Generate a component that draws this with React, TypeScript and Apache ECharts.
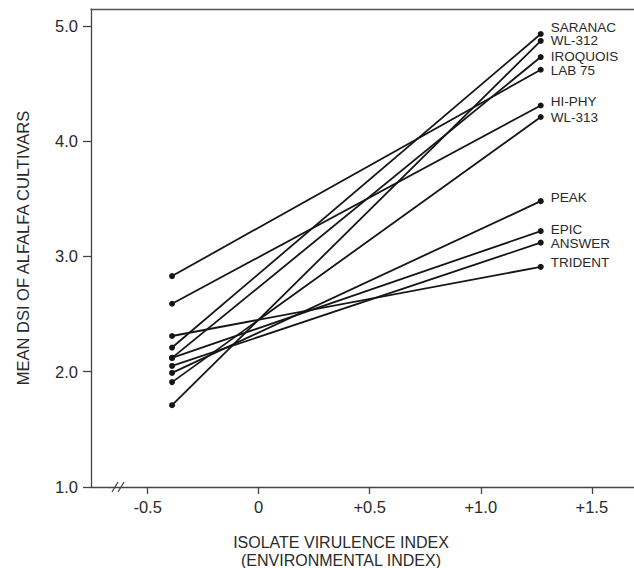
import React, { useEffect, useRef } from "react";
import * as echarts from "echarts";

// Data
const cultivars = ["SARANAC", "WL-312", "IROQUOIS", "LAB 75", "HI-PHY", "WL-313", "PEAK", "EPIC", "ANSWER", "TRIDENT"];
const envLow = -0.39;
const envHigh = 1.27;
const dsiAtLow = [2.21, 1.71, 2.12, 2.83, 2.59, 1.91, 1.99, 2.12, 2.05, 2.31];
const dsiAtHigh = [4.93, 4.87, 4.73, 4.62, 4.31, 4.21, 3.48, 3.22, 3.12, 2.91];
const xTicks = [-0.5, 0, 0.5, 1.0, 1.5];
const yTicks = [1, 2, 3, 4, 5];

// label vertical nudges (px)
const labelNudge = [-7, 0, -1, 1, -4, 0, -4, -2, 1, -4];

const FONT = '"Liberation Sans", Arial, Helvetica, sans-serif';
const INK = "#151515";
const TEXT = "#2a2a2a";

export default function App() {
  const ref = useRef<HTMLDivElement>(null);
  useEffect(() => {
    if (!ref.current) return;
    const chart = echarts.init(ref.current, undefined, { renderer: "svg" });
    const fmtX = (v: number) => (v === 0 ? "0" : (v > 0 ? "+" : "") + v.toFixed(1));
    const option: any = {
      animation: false,
      backgroundColor: "#ffffff",
      grid: { left: 91, right: 0, top: 9, bottom: 81 },
      xAxis: [
        {
          type: "value",
          min: -0.755,
          max: 1.69,
          axisLine: { show: true, onZero: false, lineStyle: { color: "#444", width: 1.3 } },
          axisTick: { show: true, length: 7, customValues: xTicks, lineStyle: { color: "#444", width: 1.3 } },
          axisLabel: {
            show: true,
            customValues: xTicks,
            formatter: fmtX,
            margin: 11,
            color: TEXT,
            fontSize: 16.5,
            fontFamily: FONT,
          },
          splitLine: { show: false },
        },
        {
          type: "value",
          position: "top",
          min: -0.755,
          max: 1.69,
          axisLine: { show: true, onZero: false, lineStyle: { color: "#555", width: 1.3 } },
          axisTick: { show: false },
          axisLabel: { show: false },
          splitLine: { show: false },
        },
      ],
      yAxis: {
        type: "value",
        min: 1,
        max: 5.147,
        name: "MEAN DSI OF ALFALFA CULTIVARS",
        nameLocation: "middle",
        nameGap: 60,
        nameTextStyle: { color: TEXT, fontSize: 16.5, fontFamily: FONT },
        axisLine: { show: true, onZero: false, lineStyle: { color: "#444", width: 1.3 } },
        axisTick: { show: true, length: 8, customValues: yTicks, lineStyle: { color: "#444", width: 1.3 } },
        axisLabel: {
          show: true,
          customValues: yTicks,
          formatter: (v: number) => v.toFixed(1),
          margin: 13,
          color: TEXT,
          fontSize: 16.5,
          fontFamily: FONT,
        },
        splitLine: { show: false },
      },
      series: cultivars.map((name, i) => ({
        type: "line",
        name,
        xAxisIndex: 0,
        data: [
          [envLow, dsiAtLow[i]],
          [envHigh, dsiAtHigh[i]],
        ],
        symbol: "circle",
        symbolSize: 6,
        showSymbol: true,
        lineStyle: { color: INK, width: 1.8 },
        itemStyle: { color: INK },
        emphasis: { disabled: true },
        silent: true,
        endLabel: {
          show: true,
          formatter: name,
          distance: 10,
          offset: [0, labelNudge[i]],
          color: TEXT,
          fontSize: 13.5,
          lineHeight: 13,
          fontFamily: FONT,
        },
      })),
      graphic: [
        { type: "line", shape: { x1: 112, y1: 492, x2: 118, y2: 482 }, style: { stroke: "#444", lineWidth: 1.3 } },
        { type: "line", shape: { x1: 118, y1: 492, x2: 124, y2: 482 }, style: { stroke: "#444", lineWidth: 1.3 } },
        {
          type: "text",
          x: 341,
          y: 542,
          style: { text: "ISOLATE VIRULENCE INDEX", fill: TEXT, font: `16px ${FONT}`, align: "center", verticalAlign: "middle" },
        },
        {
          type: "text",
          x: 341,
          y: 560,
          style: { text: "(ENVIRONMENTAL INDEX)", fill: TEXT, font: `16px ${FONT}`, align: "center", verticalAlign: "middle" },
        },
      ],
    };
    chart.setOption(option);
    return () => chart.dispose();
  }, []);
  return <div ref={ref} style={{ position: "absolute", left: 0, top: 0, width: 634, height: 568 }} />;
}
